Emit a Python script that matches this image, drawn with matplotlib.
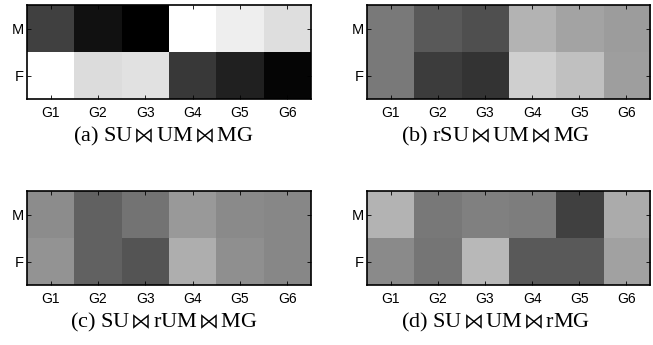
import numpy as np
import matplotlib
matplotlib.use("Agg")
import matplotlib.pyplot as plt

plt.rcParams['mathtext.fontset'] = 'stix'

groups = ['G1', 'G2', 'G3', 'G4', 'G5', 'G6']
genders = ['M', 'F']

# gray levels (0 = black, 1 = white), rows M then F
su_um_mg_m = [0.25, 0.07, 0.00, 1.00, 0.93, 0.87]
su_um_mg_f = [1.00, 0.86, 0.88, 0.22, 0.13, 0.02]
rsu_um_mg_m = [0.48, 0.35, 0.31, 0.70, 0.64, 0.61]
rsu_um_mg_f = [0.48, 0.24, 0.20, 0.81, 0.75, 0.62]
su_rum_mg_m = [0.55, 0.38, 0.45, 0.60, 0.54, 0.53]
su_rum_mg_f = [0.58, 0.38, 0.33, 0.68, 0.56, 0.53]
su_um_rmg_m = [0.70, 0.47, 0.50, 0.49, 0.25, 0.67]
su_um_rmg_f = [0.54, 0.46, 0.72, 0.35, 0.35, 0.63]

captions = [r'(a) SU$\bowtie$UM$\bowtie$MG', r'(b) rSU$\bowtie$UM$\bowtie$MG',
            r'(c) SU$\bowtie$rUM$\bowtie$MG', r'(d) SU$\bowtie$UM$\bowtie$rMG']
panels = [(su_um_mg_m, su_um_mg_f), (rsu_um_mg_m, rsu_um_mg_f),
          (su_rum_mg_m, su_rum_mg_f), (su_um_rmg_m, su_um_rmg_f)]

W, H = 653, 345
fig = plt.figure(figsize=(W / 100, H / 100), dpi=100)

# axes boxes in pixels: left, top, right, bottom, caption centre x
boxes = [(27, 5, 311, 99, 163), (367, 5, 650, 99, 496),
         (27, 191, 311, 285, 164), (367, 191, 650, 285, 496)]

for (m, f), cap, (l, t, r, b, cx) in zip(panels, captions, boxes):
    ax = fig.add_axes([l / W, 1 - b / H, (r - l) / W, (b - t) / H])
    data = np.array([m, f])
    ax.imshow(data, cmap='gray', vmin=0, vmax=1, aspect='auto',
              interpolation='nearest')
    ax.set_xticks(range(len(groups)))
    ax.set_xticklabels(groups, fontsize=10, family='Liberation Sans')
    ax.set_yticks(range(len(genders)))
    ax.set_yticklabels(genders, fontsize=10.5, family='Liberation Sans')
    ax.tick_params(direction='in', top=True, right=True, length=3,
                   width=0.6)
    ax.tick_params(axis='x', pad=5)
    ax.tick_params(axis='y', pad=2)
    for s in ax.spines.values():
        s.set_linewidth(1.2)
    fig.text(cx / W, 1 - (b + 37) / H, cap, ha='center', va='center',
             fontsize=16, family='Liberation Serif')

fig.savefig('out.png', dpi=100)
